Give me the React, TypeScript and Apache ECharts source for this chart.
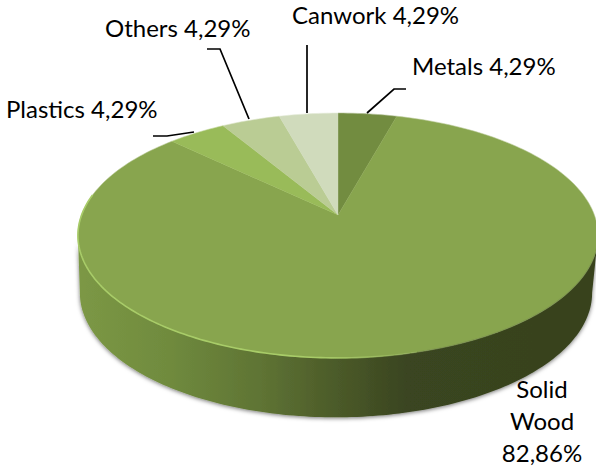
import React, { useEffect, useRef } from "react";
import * as echarts from "echarts";

const categories = ["Metals", "Solid Wood", "Plastics", "Others", "Canwork"];
const percentages = [4.29, 82.86, 4.29, 4.29, 4.29];
const sliceColors = ["#728C40", "#88A54E", "#99BB59", "#BACC94", "#D0DBBC"];

const total = percentages.reduce((a, b) => a + b, 0);
const CX = 338;
const K = 0.1674;
const fmt = (v: number) => v.toFixed(2).replace(".", ",") + "%";

// perspective projection of a point on a unit disc, angle measured clockwise from the top
function project(theta: number, cx: number, ay: number, a: number, b: number): number[] {
  const u = Math.sin(theta);
  const v = Math.cos(theta);
  const w = 1 + K * v;
  return [cx + (a * u) / w, ay - (b * v) / w];
}
const topRim = (t: number) => project(t, CX, 215, 256.4, 119);
const botRim = (t: number) => project(t, 336, 272, 252.5, 121);

function arcPoints(f: (t: number) => number[], t0: number, t1: number, n = 90): number[][] {
  const pts: number[][] = [];
  for (let i = 0; i <= n; i++) pts.push(f(t0 + ((t1 - t0) * i) / n));
  return pts;
}
const rad = (d: number) => (d * Math.PI) / 180;

function sliceRange(i: number): [number, number] {
  let s = 0;
  for (let j = 0; j < i; j++) s += percentages[j];
  return [(s / total) * Math.PI * 2, ((s + percentages[i]) / total) * Math.PI * 2];
}

function renderTop(params: any) {
  const i = params.dataIndex;
  const [t0, t1] = sliceRange(i);
  const pts = [[CX, 215], ...arcPoints(topRim, t0, t1, Math.max(12, Math.round((t1 - t0) * 40)))];
  return {
    type: "polygon",
    shape: { points: pts },
    style: { fill: sliceColors[i], stroke: sliceColors[i], lineWidth: 0.4 },
  };
}

function renderWall() {
  const top = arcPoints(topRim, rad(99.6), rad(260.4), 160);
  const bot = arcPoints(botRim, rad(260.4), rad(99.6), 160);
  return {
    type: "polygon",
    shape: { points: [...top, ...bot] },
    style: {
      fill: {
        type: "linear",
        x: 0,
        y: 0,
        x2: 1,
        y2: 0,
        colorStops: [
          { offset: 0, color: "#7C9845" },
          { offset: 0.17, color: "#708B3E" },
          { offset: 0.35, color: "#5F7434" },
          { offset: 0.47, color: "#4F5F2B" },
          { offset: 0.63, color: "#3A4520" },
          { offset: 1, color: "#37421E" },
        ],
      },
      shadowBlur: 4,
      shadowColor: "rgba(0,0,0,0.55)",
      shadowOffsetY: 1,
    },
  };
}

function renderRim() {
  return {
    type: "group",
    children: [
      {
        type: "polyline",
        shape: { points: arcPoints(topRim, rad(-95), rad(95), 120) },
        style: { fill: "none", stroke: "rgba(255,255,255,0.22)", lineWidth: 1 },
      },
      {
        type: "polyline",
        shape: { points: arcPoints(topRim, rad(165), rad(280), 120) },
        style: {
          fill: "none",
          lineWidth: 1.6,
          stroke: {
            type: "linear",
            global: true,
            x: 440,
            y: 0,
            x2: 200,
            y2: 0,
            colorStops: [
              { offset: 0, color: "rgba(168,204,104,0)" },
              { offset: 0.5, color: "rgba(168,204,104,1)" },
              { offset: 1, color: "rgba(168,204,104,1)" },
            ],
          },
        },
      },
      {
        type: "polyline",
        shape: { points: arcPoints(topRim, rad(100), rad(165), 80) },
        style: { fill: "none", lineWidth: 1.2, stroke: "rgba(110,130,70,0.45)" },
      },
    ],
  };
}

const labelFont = { fontFamily: "Lato, Carlito, sans-serif", fontSize: 24, fill: "#000" };
const leader = (points: number[][]) => ({
  type: "polyline",
  shape: { points },
  style: { fill: "none", stroke: "#000", lineWidth: 1.7 },
  z: 10,
});
const label = (i: number, x: number, y: number) => ({
  type: "text",
  x,
  y,
  style: {
    ...labelFont,
    text: `${categories[i]} ${fmt(percentages[i])}`,
    textAlign: "left",
    textVerticalAlign: "middle",
  },
  z: 10,
});

export default function App() {
  const ref = useRef<HTMLDivElement>(null);
  useEffect(() => {
    const chart = echarts.init(ref.current!, null, { renderer: "svg" });
    const rows = percentages.map((v, i) => ({ name: categories[i], value: v }));
    chart.setOption({
      animation: false,
      backgroundColor: "#fff",
      series: [
        { type: "custom", coordinateSystem: "none", data: [0], renderItem: renderWall, silent: true, z: 1 },
        { type: "custom", coordinateSystem: "none", data: rows, renderItem: renderTop, silent: true, z: 2 },
        { type: "custom", coordinateSystem: "none", data: [0], renderItem: renderRim, silent: true, z: 3 },
      ],
      graphic: [
        label(4, 292, 14),
        label(3, 105, 27),
        label(0, 412, 65),
        label(2, 6, 108),
        {
          type: "text",
          x: 542,
          y: 420,
          style: {
            ...labelFont,
            text: `Solid\nWood\n${fmt(percentages[1])}`,
            textAlign: "center",
            textVerticalAlign: "middle",
            lineHeight: 32,
          },
          z: 10,
        },
        leader([[307, 45], [307, 113]]),
        leader([[207, 49], [220, 49], [249, 119]]),
        leader([[406, 89], [394, 89], [367, 113]]),
        leader([[153, 136], [167, 136], [194, 132]]),
      ],
    });
    return () => chart.dispose();
  }, []);
  return <div ref={ref} style={{ position: "absolute", left: 0, top: 0, width: 596, height: 470 }} />;
}
